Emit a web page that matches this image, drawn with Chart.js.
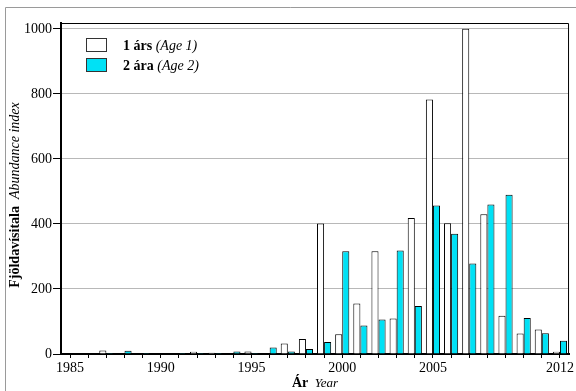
<!DOCTYPE html>
<html lang="is">
<head>
  <meta charset="UTF-8">
  <title>Fjöldavísitala</title>
  <style>
    body { margin: 0; background: #fff; }
    #wrap { width: 576px; height: 391px; }
  </style>
</head>
<body>
  <div id="wrap"><canvas id="chart" width="576" height="391"></canvas></div>

  <script src="https://cdn.jsdelivr.net/npm/chart.js"></script>
  <script>
    const years = ['1985','1986','1987','1988','1989','1990','1991','1992','1993','1994',
                   '1995','1996','1997','1998','1999','2000','2001','2002','2003','2004',
                   '2005','2006','2007','2008','2009','2010','2011','2012'];
    const age1 = [0, 0, 11, 0, 0, 0, 0, 7, 4, 2,
                  8, 0, 32, 46, 401, 61, 155, 316, 109, 418,
                  783, 402, 1000, 430, 118, 63, 75, 7];
    const age2 = [0, 0, 3, 10, 3, 0, 3, 3, 3, 8,
                  3, 20, 8, 15, 37, 316, 88, 106, 318, 148,
                  457, 370, 278, 460, 490, 111, 64, 41];
    const shownYears = ['1985', '1990', '1995', '2000', '2005', '2012'];
    const yTicks = [0, 200, 400, 600, 800, 1000];

    const FONT = "'Liberation Serif', 'DejaVu Serif', serif";
    const CYAN = '#00e1f5';

    // frame, legend and the mixed bold/italic titles
    const extras = {
      id: 'extras',
      beforeDraw(chart) {
        const c = chart.ctx;
        c.save();
        c.strokeStyle = '#9a9a9a';
        c.lineWidth = 1;
        c.beginPath();
        c.moveTo(5.5, 391);
        c.lineTo(5.5, 7.5);
        c.lineTo(576, 7.5);
        c.stroke();
        c.restore();
      },
      afterDraw(chart) {
        const c = chart.ctx;
        const a = chart.chartArea;
        c.save();
        // thin frame top / right
        c.strokeStyle = '#000';
        c.lineWidth = 1;
        c.beginPath();
        c.moveTo(a.left, a.top + 0.5);
        c.lineTo(a.right - 0.5, a.top + 0.5);
        c.lineTo(a.right - 0.5, a.bottom);
        c.stroke();

        // legend
        const items = [
          { bold: '1 árs', ital: ' (Age 1)', fill: '#fff', y: 38.5 },
          { bold: '2 ára', ital: ' (Age 2)', fill: CYAN, y: 58.5 }
        ];
        items.forEach(it => {
          c.fillStyle = it.fill;
          c.fillRect(86.5, it.y, 20, 13);
          c.strokeStyle = '#333';
          c.strokeRect(86.5, it.y, 20, 13);
          c.fillStyle = '#000';
          c.textBaseline = 'alphabetic';
          c.font = 'bold 14px ' + FONT;
          c.fillText(it.bold, 123, it.y + 11);
          const w = c.measureText(it.bold).width;
          c.font = 'italic 14px ' + FONT;
          c.fillText(it.ital, 123 + w, it.y + 11);
        });

        // x title
        c.font = 'bold 14px ' + FONT;
        const xb = 'Ár';
        const xbw = c.measureText(xb).width;
        c.font = 'italic 13px ' + FONT;
        const xi = '  Year';
        const xiw = c.measureText(xi).width;
        let x0 = (a.left + a.right) / 2 - (xbw + xiw) / 2;
        c.font = 'bold 14px ' + FONT;
        c.fillText(xb, x0, 387);
        c.font = 'italic 13px ' + FONT;
        c.fillText(xi, x0 + xbw, 387);

        // y title
        c.translate(19, 195);
        c.rotate(-Math.PI / 2);
        c.font = 'bold 14px ' + FONT;
        const yb = 'Fjöldavísitala';
        const ybw = c.measureText(yb).width;
        c.font = 'italic 14px ' + FONT;
        const yi = '  Abundance index';
        const yiw = c.measureText(yi).width;
        const y0 = -(ybw + yiw) / 2;
        c.font = 'bold 14px ' + FONT;
        c.fillText(yb, y0, 0);
        c.font = 'italic 14px ' + FONT;
        c.fillText(yi, y0 + ybw, 0);
        c.restore();
      }
    };

    new Chart(document.getElementById('chart'), {
      type: 'bar',
      data: {
        labels: years,
        datasets: [
          { label: '1 árs (Age 1)', data: age1, backgroundColor: '#fff', borderColor: '#000', borderWidth: 1 },
          { label: '2 ára (Age 2)', data: age2, backgroundColor: CYAN, borderColor: '#000', borderWidth: 1 }
        ]
      },
      options: {
        responsive: false,
        animation: false,
        categoryPercentage: 0.78,
        barPercentage: 1.0,
        layout: { padding: { left: 0, right: 2, top: 23, bottom: 0 } },
        plugins: {
          legend: { display: false },
          tooltip: { enabled: false }
        },
        scales: {
          x: {
            offset: true,
            afterFit(scale) { scale.height = 37; },
            border: { color: '#000', width: 2 },
            grid: {
              offset: false,
              drawOnChartArea: false,
              tickLength: 4,
              tickColor: '#000'
            },
            ticks: {
              autoSkip: false,
              maxRotation: 0,
              padding: 2,
              color: '#000',
              font: { family: FONT, size: 14 },
              callback(v, i) { return shownYears.includes(years[i]) ? years[i] : ''; }
            }
          },
          y: {
            min: 0,
            max: 1018,
            afterFit(scale) { scale.width = 61; },
            afterBuildTicks(scale) { scale.ticks = yTicks.map(v => ({ value: v })); },
            border: { color: '#000', width: 2 },
            grid: {
              color: ctx => ctx.tick && ctx.tick.value === 0 ? 'rgba(0,0,0,0)' : '#b8b8b8',
              tickColor: '#000',
              tickLength: 8
            },
            ticks: {
              padding: 1,
              color: '#000',
              font: { family: FONT, size: 14 },
              callback: v => String(v)
            }
          }
        }
      },
      plugins: [extras]
    });
  </script>
</body>
</html>
